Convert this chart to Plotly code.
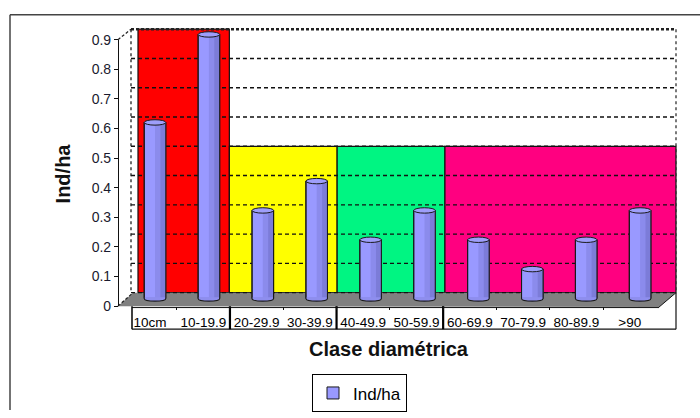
import numpy as np
import plotly.graph_objects as go

# ---- data -------------------------------------------------------------
categories = ["10cm", "10-19.9", "20-29.9", "30-39.9", "40-49.9",
              "50-59.9", "60-69.9", "70-79.9", "80-89.9", ">90"]
ind_ha = [0.6, 0.9, 0.3, 0.4, 0.2, 0.3, 0.2, 0.1, 0.2, 0.3]
y_ticks = [0, 0.1, 0.2, 0.3, 0.4, 0.5, 0.6, 0.7, 0.8, 0.9]

# diameter-class groups painted on the back wall
group_sizes = [2, 2, 2, 4]
group_colors = ["#FF0000", "#FFFF00", "#00F582", "#FF0080"]
group_tops = [0.9, 0.5, 0.5, 0.5]

series_name = "Ind/ha"
x_title = "Clase diamétrica"
y_title = "Ind/ha"

# ---- figure geometry (pixels, converted by px()/py()) -----------------
W, H = 700, 418
FONT = "Liberation Sans, Arial, sans-serif"
NARROW = "Liberation Sans Narrow, Arial Narrow, Liberation Sans, Arial"

WALL_L, WALL_R = 131, 676          # back wall left/right edges
WALL_Y0, WALL_UNIT = 296, 304.4    # back wall: value 0 and px per 1.0
FRONT_Y0, FRONT_UNIT = 310, 307.8  # front value axis
AXIS_X = 118                       # front value axis line
BAR_X0, BAR_STEP = 155, 53.9       # bar centres
BAR_Y0, BAR_UNIT = 302, 305        # bar plane vertical scale
LABEL_X0, LABEL_STEP = 150, 53.3   # category labels on the front edge
WALL_SHIFT = -6.5                  # perspective shift of the wall plane
BOX_TOP, BOX_BOT = 311.5, 334


def px(x):
    return x / W


def py(y):
    return 1 - y / H


def wall_y(v):
    return WALL_Y0 - WALL_UNIT * v


def wall_x(i):
    return BAR_X0 + WALL_SHIFT + BAR_STEP * i


shapes = []


def line(x0, y0, x1, y1, color="#111", width=1.0, dash=None, layer="below"):
    shapes.append(dict(type="line", xref="paper", yref="paper",
                       x0=px(x0), y0=py(y0), x1=px(x1), y1=py(y1),
                       line=dict(color=color, width=width, dash=dash),
                       layer=layer))


def poly(points, fill, layer="below"):
    d = "M " + " L ".join(f"{px(a):.5f},{py(b):.5f}" for a, b in points) + " Z"
    shapes.append(dict(type="path", xref="paper", yref="paper", path=d,
                       fillcolor=fill, line=dict(width=0), layer=layer))


# outer chart-area frame: only its top and left edges lie on the page
line(10, 7, W, 7, "#444", 1.5)
line(10, 7, 10, H, "#444", 1.5)

# coloured group panels on the back wall
edges = np.cumsum([0] + group_sizes) - 0.5
for k, (col, top) in enumerate(zip(group_colors, group_tops)):
    left = wall_x(edges[k])
    right = wall_x(edges[k + 1])
    if k == 0:
        left = WALL_L + 7
    if k == len(group_sizes) - 1:
        right = WALL_R
    shapes.append(dict(type="rect", xref="paper", yref="paper",
                       x0=px(left), x1=px(right),
                       y0=py(wall_y(0)), y1=py(wall_y(top)),
                       fillcolor=col, line=dict(color="#111", width=1.2),
                       layer="below"))

# floor
poly([(AXIS_X, FRONT_Y0), (WALL_L + 2, WALL_Y0), (WALL_R, WALL_Y0),
      (WALL_R - 17, FRONT_Y0 + 1)], "#808080")

# dashed gridlines on the back wall
for v in y_ticks[:-1]:
    line(WALL_L, wall_y(v), WALL_R, wall_y(v), "#111", 1.4, "4px,3px")
line(WALL_L, wall_y(y_ticks[-1]), WALL_R, wall_y(y_ticks[-1]),
     "#222", 2.4, "3px,2px")
line(WALL_L, wall_y(0.9), WALL_L, wall_y(0), "#222", 1.3, "3px,3px")
line(WALL_R, wall_y(0.9), WALL_R, wall_y(0), "#333", 1.3, "3px,3px")

# perspective edges joining the front axis to the wall
line(AXIS_X, FRONT_Y0 - FRONT_UNIT * 0.9, WALL_L, wall_y(0.9), "#222", 1.2, "3px,2px")
line(AXIS_X, FRONT_Y0, WALL_L + 2, WALL_Y0, "#222", 1.2, "3px,2px")
line(WALL_R - 17, FRONT_Y0 + 1, WALL_R, WALL_Y0, "#111", 1.0)

# category label box
line(132, FRONT_Y0, 132, BOX_BOT, "#111", 1.6)
line(132, BOX_BOT, WALL_R, BOX_BOT, "#111", 1.2)
line(WALL_R, WALL_Y0, WALL_R, BOX_BOT, "#111", 1.2)
line(132, BOX_TOP, WALL_R - 17, BOX_TOP, "#111", 1.0)
for b in edges[1:-1]:
    shapes.append(dict(type="line", xref="x2", yref="paper",
                       x0=b, x1=b, y0=py(FRONT_Y0), y1=py(BOX_BOT),
                       line=dict(color="#000", width=2.2), layer="below"))

# ---- bars (cylinders) ------------------------------------------------
idx = np.arange(len(categories))
half_w = 0.2
ry = 2.8 / BAR_UNIT
kk = 4.0 / 3.0 * ry
eps = 0.004
for i, v in zip(idx, ind_ha):
    l, r = i - half_w, i + half_w
    shapes.append(dict(
        type="path", xref="x", yref="y", layer="above",
        path=f"M {l},{eps} L {l},0 C {l},{-kk} {r},{-kk} {r},0 L {r},{eps} Z",
        fillcolor="#8E8EEE", line=dict(width=0)))
    shapes.append(dict(
        type="path", xref="x", yref="y", layer="above",
        path=f"M {l},{v} L {l},0 C {l},{-kk} {r},{-kk} {r},0 L {r},{v}",
        fillcolor="rgba(0,0,0,0)", line=dict(color="#1a1a1a", width=1.1)))
    shapes.append(dict(
        type="circle", xref="x", yref="y", layer="above",
        x0=l, x1=r, y0=v - ry, y1=v + ry,
        fillcolor="#9E9EFA", line=dict(color="#1a1a1a", width=1.0)))

fig = go.Figure()
fig.add_trace(go.Bar(
    x=idx, y=ind_ha, width=2 * half_w, name=series_name,
    marker=dict(color="#9999FF", line=dict(color="#1a1a1a", width=1)),
    hoverinfo="skip"))
fig.add_trace(go.Bar(
    x=idx, y=ind_ha, width=0.2, offset=0.0, showlegend=False,
    marker=dict(color="#8B8BEC", line=dict(width=0)), hoverinfo="skip"))
fig.add_trace(go.Bar(
    x=idx, y=ind_ha, width=0.1, offset=0.1, showlegend=False,
    marker=dict(color="#7C7CD8", line=dict(width=0)), hoverinfo="skip"))

# carrier for the front value and category axes
fig.add_trace(go.Scatter(
    x=[0], y=[0], mode="markers", marker=dict(opacity=0),
    xaxis="x2", yaxis="y2", showlegend=False, hoverinfo="skip"))

y_lo, y_hi = -0.035, 0.96
fig.update_layout(
    width=W, height=H, autosize=False,
    margin=dict(l=0, r=0, t=0, b=0),
    paper_bgcolor="white", plot_bgcolor="rgba(0,0,0,0)",
    barmode="overlay", hovermode=False,
    font=dict(family=FONT, color="#111"),
    xaxis=dict(visible=False, range=[-0.5, 9.5],
               domain=[px(BAR_X0 - BAR_STEP / 2),
                       px(BAR_X0 + BAR_STEP * 9.5)]),
    yaxis=dict(visible=False, range=[y_lo, y_hi],
               domain=[py(BAR_Y0 - BAR_UNIT * y_lo),
                       py(BAR_Y0 - BAR_UNIT * y_hi)]),
    xaxis2=dict(
        anchor="y2", range=[-0.5, 9.5],
        domain=[px(LABEL_X0 - LABEL_STEP / 2),
                px(LABEL_X0 + LABEL_STEP * 9.5)],
        tickmode="array", tickvals=list(idx), ticktext=categories,
        ticks="", showline=False, showgrid=False, zeroline=False,
        tickfont=dict(family=NARROW, size=13.5, color="#000"),
        ticklabelstandoff=6,
        minor=dict(tickmode="array", tickvals=list(idx[:-1] + 0.5),
                   ticks="outside", ticklen=3, tickcolor="#111",
                   showgrid=False)),
    yaxis2=dict(
        anchor="free", position=px(AXIS_X), range=[0, 0.9],
        domain=[py(FRONT_Y0), py(FRONT_Y0 - FRONT_UNIT * 0.9)],
        tickmode="array", tickvals=y_ticks,
        ticktext=[f"{t:g}" for t in y_ticks],
        ticks="outside", ticklen=4, tickcolor="#111",
        showline=True, linecolor="#111", linewidth=1.2,
        showgrid=False, zeroline=False,
        tickfont=dict(family=FONT, size=14, color="#1a1a2e")),
    legend=dict(x=px(312), y=py(381), xanchor="left", yanchor="top",
                bgcolor="white", bordercolor="#000", borderwidth=1,
                font=dict(family=FONT, size=17, color="#000"),
                itemwidth=30),
    shapes=shapes,
    annotations=[
        dict(text=f"<b>{x_title}</b>", xref="paper", yref="paper",
             x=px(389), y=py(355), xanchor="center", yanchor="middle",
             showarrow=False, font=dict(family=FONT, size=20, color="#111")),
        dict(text=f"<b>{y_title}</b>", xref="paper", yref="paper",
             x=px(63), y=py(172), xanchor="center", yanchor="middle",
             textangle=-90, showarrow=False,
             font=dict(family=FONT, size=20, color="#111")),
    ],
)

fig.write_html("out.html")
